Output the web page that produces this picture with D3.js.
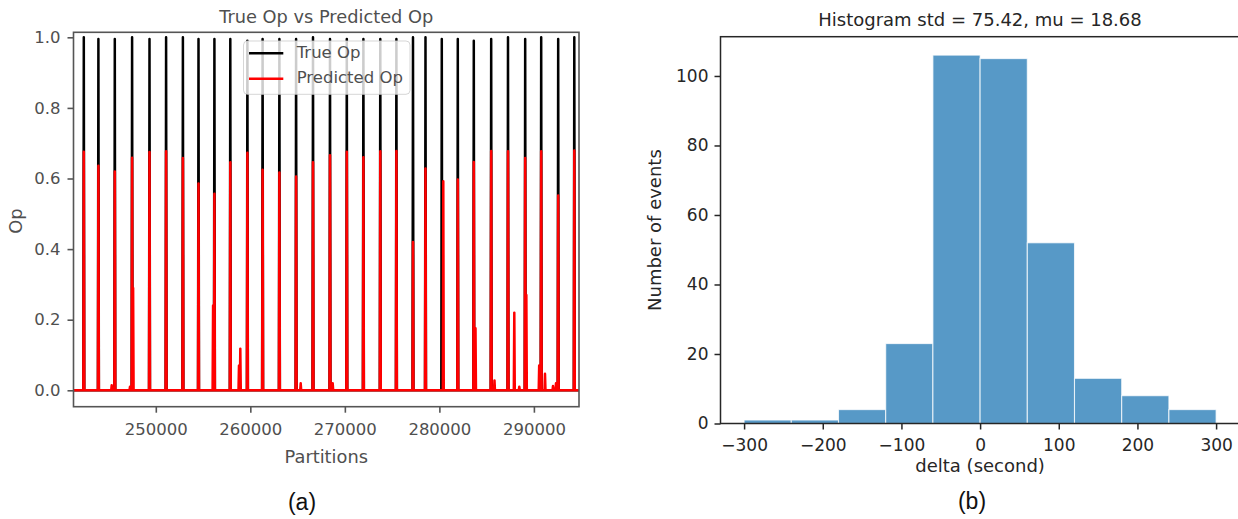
<!DOCTYPE html>
<html><head><meta charset="utf-8">
<script src="https://cdn.jsdelivr.net/npm/d3@7"></script>
<style>body{margin:0;background:#fff} svg{display:block}</style>
</head><body>
<svg id="c" width="1238" height="519"></svg>
<script>
// ---------- Panel (a): True Op vs Predicted Op ----------
const truePartitions = [242383,243927,245662,247492,249333,251089,252866,254517,256200,257881,
  259690,261298,263075,264842,266630,268428,270206,271961,273749,275453,
  277209,278531,280255,281948,283641,285481,287259,289078,290771,292569,294273];
const trueValues = [1.0,0.995,0.995,1.0,0.995,1.0,1.0,0.995,0.995,0.995,
  0.99,0.995,0.995,0.995,1.0,0.995,0.995,0.995,0.995,0.995,
  1.0,1.0,0.995,0.995,0.99,0.995,1.0,0.995,1.0,0.995,1.0];
const predPartitions = [242383,243927,245662,247492,249333,251089,252866,254517,256200,257881,
  259690,261298,263075,264842,266630,268428,270206,271961,273749,275453,
  277209,278531,280414,281948,283641,285481,287259,289078,290771,292569,294273];
const predValues = [0.676,0.636,0.620,0.659,0.675,0.677,0.658,0.586,0.557,0.646,
  0.673,0.625,0.617,0.606,0.646,0.666,0.676,0.660,0.677,0.678,
  0.420,0.628,0.592,0.597,0.647,0.678,0.677,0.658,0.677,0.552,0.679];
const predSidePartitions = [245334,247270,247600,256060,258800,258940,265329,268714,283821,
  285830,287926,288454,289200,290559,291173,292019,292336];
const predSideValues = [0.014,0.010,0.290,0.240,0.070,0.118,0.020,0.020,0.176,
  0.028,0.220,0.010,0.270,0.070,0.047,0.012,0.020];
const leftXTicks = [250000,260000,270000,280000,290000];
const leftYTicks = [0.0,0.2,0.4,0.6,0.8,1.0];
const leftXDomain = [241293, 294771];
const leftYDomain = [-0.0465, 1.0142];

// ---------- Panel (b): Histogram ----------
const binEdges = [-300,-240,-180,-120,-60,0,60,120,180,240,300];
const binCounts = [1,1,4,23,106,105,52,13,8,4];
const rightXTicks = [-300,-200,-100,0,100,200,300];
const rightYTicks = [0,20,40,60,80,100];
const rightXDomain = [-330, 330];
const rightYDomain = [0, 111.3];

const svg = d3.select("#c");
const FONT = "DejaVu Sans, sans-serif";

// ---------- Left panel ----------
const L = {x0:73.5, x1:579, y0:32.3, y1:406.7};
const xL = d3.scaleLinear().domain(leftXDomain).range([L.x0, L.x1]);
const yL = d3.scaleLinear().domain(leftYDomain).range([L.y1, L.y0]);
const leftGrey = "#4f4f4f";

function spikePoints(ps, vs, hw) {
  const items = ps.map((p,i)=>({p, v:vs[i]})).sort((a,b)=>a.p-b.p);
  const pts = [[leftXDomain[0], 0]];
  items.forEach(d => { pts.push([d.p-hw,0],[d.p,d.v],[d.p+hw,0]); });
  pts.push([leftXDomain[1], 0]);
  return pts;
}
const lineL = d3.line().x(d=>xL(d[0])).y(d=>yL(d[1]));

const gL = svg.append("g");
const truePts = spikePoints(truePartitions, trueValues, 50);
const predPts = spikePoints(predPartitions.concat(predSidePartitions), predValues.concat(predSideValues), 50);
gL.append("path").attr("d", lineL(truePts)).attr("fill","none").attr("stroke","#000").attr("stroke-width",2.5).attr("stroke-linejoin","round");
gL.append("path").attr("d", lineL(predPts)).attr("fill","none").attr("stroke","#ff0000").attr("stroke-width",2.5).attr("stroke-linejoin","round");

// box
gL.append("rect").attr("x",L.x0).attr("y",L.y0).attr("width",L.x1-L.x0).attr("height",L.y1-L.y0)
  .attr("fill","none").attr("stroke","#555").attr("stroke-width",1.6);

const axLX = gL.append("g").attr("transform",`translate(0,${L.y1})`)
  .call(d3.axisBottom(xL).tickValues(leftXTicks).tickFormat(d3.format("d")).tickSize(6).tickPadding(10.5).tickSizeOuter(0));
const axLY = gL.append("g").attr("transform",`translate(${L.x0},0)`)
  .call(d3.axisLeft(yL).tickValues(leftYTicks).tickFormat(d3.format(".1f")).tickSize(6).tickPadding(7).tickSizeOuter(0));
[axLX, axLY].forEach(a => {
  a.select(".domain").remove();
  a.selectAll(".tick line").attr("stroke","#555").attr("stroke-width",1.6);
  a.selectAll(".tick text").attr("fill",leftGrey).style("font-family",FONT).style("font-size","16.5px");
});

gL.append("text").attr("x",(L.x0+L.x1)/2).attr("y",23).attr("text-anchor","middle")
  .style("font-family",FONT).style("font-size","17.8px").attr("fill",leftGrey).text("True Op vs Predicted Op");
gL.append("text").attr("x",(L.x0+L.x1)/2).attr("y",463).attr("text-anchor","middle")
  .style("font-family",FONT).style("font-size","17.8px").attr("fill",leftGrey).text("Partitions");
gL.append("text").attr("transform","translate(22.3,221) rotate(-90)").attr("text-anchor","middle")
  .style("font-family",FONT).style("font-size","17.8px").attr("fill",leftGrey).text("Op");

// legend
const lg = gL.append("g");
lg.append("rect").attr("x",243.5).attr("y",41).attr("width",166.5).attr("height",53.3).attr("rx",4)
  .attr("fill","#fff").attr("fill-opacity",0.8).attr("stroke","#ccc").attr("stroke-opacity",0.8).attr("stroke-width",1);
const legendItems = [{label:"True Op", color:"#000", y:53.3, ty:57.7},{label:"Predicted Op", color:"#ff0000", y:78.7, ty:83}];
legendItems.forEach(d => {
  lg.append("line").attr("x1",249).attr("x2",283.3).attr("y1",d.y).attr("y2",d.y).attr("stroke",d.color).attr("stroke-width",2.5);
  lg.append("text").attr("x",296.7).attr("y",d.ty).style("font-family",FONT).style("font-size","16.5px").attr("fill",leftGrey).text(d.label);
});

svg.append("text").attr("x",302).attr("y",510).attr("text-anchor","middle")
  .style("font-family","Liberation Sans, Arial, sans-serif").style("font-size","23px").attr("fill","#111").text("(a)");

// ---------- Right panel ----------
const R = {x0:720.5, x1:1239.7, y0:36.7, y1:423.5};
const xR = d3.scaleLinear().domain(rightXDomain).range([R.x0, R.x1]);
const yR = d3.scaleLinear().domain(rightYDomain).range([R.y1, R.y0]);
const dark = "#262626";
const gR = svg.append("g");

const bins = binCounts.map((c,i)=>({x0:binEdges[i], x1:binEdges[i+1], c}));
gR.selectAll("rect.bar").data(bins).enter().append("rect").attr("class","bar")
  .attr("x",d=>xR(d.x0)).attr("width",d=>xR(d.x1)-xR(d.x0))
  .attr("y",d=>yR(d.c)).attr("height",d=>yR(0)-yR(d.c))
  .attr("fill","#5799c7").attr("stroke","#ffffff").attr("stroke-opacity",0.75).attr("stroke-width",1.1);

gR.append("rect").attr("x",R.x0).attr("y",R.y0).attr("width",R.x1-R.x0).attr("height",R.y1-R.y0)
  .attr("fill","none").attr("stroke",dark).attr("stroke-width",1.5);

const minusFmt = t => t < 0 ? "\u2212" + Math.abs(t) : String(t);
const axRX = gR.append("g").attr("transform",`translate(0,${R.y1})`)
  .call(d3.axisBottom(xR).tickValues(rightXTicks).tickFormat(minusFmt).tickSize(6).tickPadding(9.5).tickSizeOuter(0));
const axRY = gR.append("g").attr("transform",`translate(${R.x0},0)`)
  .call(d3.axisLeft(yR).tickValues(rightYTicks).tickFormat(d3.format("d")).tickSize(6).tickPadding(6).tickSizeOuter(0));
[axRX, axRY].forEach(a => {
  a.select(".domain").remove();
  a.selectAll(".tick line").attr("stroke",dark).attr("stroke-width",1.5);
  a.selectAll(".tick text").attr("fill",dark).style("font-family",FONT).style("font-size","17px");
});

gR.append("text").attr("x",980).attr("y",26.4).attr("text-anchor","middle")
  .style("font-family",FONT).style("font-size","18px").attr("fill",dark).text("Histogram std = 75.42, mu = 18.68");
gR.append("text").attr("x",xR(0)).attr("y",472).attr("text-anchor","middle")
  .style("font-family",FONT).style("font-size","18px").attr("fill",dark).text("delta (second)");
gR.append("text").attr("transform",`translate(661.4,${(R.y0+R.y1)/2}) rotate(-90)`).attr("text-anchor","middle")
  .style("font-family",FONT).style("font-size","18px").attr("fill",dark).text("Number of events");

svg.append("text").attr("x",972).attr("y",509).attr("text-anchor","middle")
  .style("font-family","Liberation Sans, Arial, sans-serif").style("font-size","23px").attr("fill","#111").text("(b)");
</script>
</body></html>
